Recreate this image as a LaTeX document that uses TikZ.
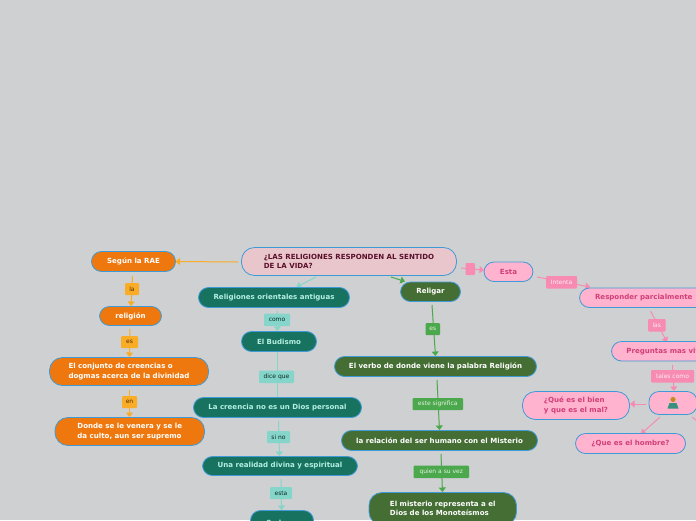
\documentclass[tikz,border=0pt]{standalone}
\usepackage{fontspec}
\setmainfont{DejaVu Sans}
\usetikzlibrary{arrows.meta}
\definecolor{bgc}{HTML}{CFD0D2}
\definecolor{edgeb}{HTML}{3F9BD8}
\definecolor{orangen}{HTML}{EE780E}
\definecolor{orangel}{HTML}{F9AC25}
\definecolor{tealn}{HTML}{17735F}
\definecolor{teall}{HTML}{85D5CA}
\definecolor{tealt}{HTML}{B5EFE3}
\definecolor{greenn}{HTML}{446E33}
\definecolor{greenl}{HTML}{4CA84C}
\definecolor{pinkn}{HTML}{FFB3CF}
\definecolor{pinkl}{HTML}{F78BB2}
\definecolor{pinkt}{HTML}{D13F77}
\definecolor{rootf}{HTML}{E8C6CC}
\definecolor{roott}{HTML}{5A0F2B}
\tikzset{
 x=1pt,y=-1pt,
 box/.style={draw=edgeb,line width=0.8pt,rounded corners=#1,inner sep=0pt,font=\fontsize{7.05}{9.2}\selectfont\bfseries,align=left},
 box/.default=10pt,
 onode/.style={box,fill=orangen,text=white},
 tnode/.style={box,fill=tealn,text=tealt},
 gnode/.style={box,fill=greenn,text=white},
 pnode/.style={box,fill=pinkn,text=pinkt},
 rnode/.style={box=13pt,fill=rootf,text=roott},
 lab/.style={rounded corners=1pt,inner sep=0pt,font=\fontsize{6}{7}\selectfont},
 olab/.style={lab,fill=orangel,text=black!65!orangen},
 tlab/.style={lab,fill=teall,text=black!65!tealn},
 glab/.style={lab,fill=greenl,text=white!85!greenl},
 plab/.style={lab,fill=pinkl,text=white!85!pinkl},
 lnk/.style={line width=1pt,-{Triangle[width=7pt,length=4.5pt]}},
 lno/.style={line width=1pt},
}
\newcommand{\bx}[7]{\node[#1,minimum width={#5-#3},minimum height={#6-#4},anchor=center] (#2) at ({(#3+#5)/2},{(#4+#6)/2}) {#7};}
\begin{document}
\begin{tikzpicture}
\useasboundingbox (0,0) rectangle (696,520);
\clip (0,0) rectangle (696,520);
\fill[bgc] (0,0) rectangle (696,520);
\coordinate (rootL) at (238,262);
\coordinate (rootB) at (316,277);
\coordinate (rootC) at (391,277);
\coordinate (rootR) at (461,268);
\coordinate (raeB) at (132.5,276);
\coordinate (religB) at (130,329);
\coordinate (conjB) at (129.5,390);
\coordinate (orientT) at (296.5,287);
\coordinate (orientB) at (277,311);
\coordinate (budisB) at (277,352);
\coordinate (creenB) at (278.5,421);
\coordinate (realB) at (281,479);
\coordinate (basaT) at (281.5,510);
\coordinate (religarT) at (405,281.5);
\coordinate (religarB) at (432,305);
\coordinate (verboT) at (435.5,356);
\coordinate (verboB) at (437,380);
\coordinate (relacT) at (439.5,430);
\coordinate (relacB) at (441,454);
\coordinate (mistT) at (442.5,492);
\coordinate (estaR) at (537,277);
\coordinate (respT) at (590,287);
\coordinate (respB) at (650.5,311);
\coordinate (pregT) at (667,342);
\coordinate (pregB) at (672.5,365);
\coordinate (emoT) at (674,391);
\coordinate (emoL) at (646,404);
\coordinate (emoBL) at (660,417);
\coordinate (hombT) at (641,434);
\coordinate (emoBR) at (692,417);
\coordinate (offR) at (697,421);
% connectors
\draw[orangel,lnk] (rootL) -- (175.5,261.5);
\draw[orangel,lnk] (raeB) -- (131,306);
\draw[orangel,lnk] (religB) -- (129.5,357);
\draw[orangel,lnk] (conjB) -- (129.5,417);
\draw[teall,lnk] (rootB) -- (orientT);
\draw[teall,lnk] (orientB) -- (277.5,331);
\draw[teall,lno] (budisB) -- (277,397);
\draw[teall,lnk] (creenB) -- (279.5,456);
\draw[teall,lnk] (realB) -- (basaT);
\draw[greenl,lnk] (rootC) -- (religarT);
\draw[greenl,lnk] (religarB) -- (verboT);
\draw[greenl,lnk] (verboB) -- (relacT);
\draw[greenl,lnk] (relacB) -- (mistT);
\draw[pinkl,lnk] (rootR) -- (484,270);
\draw[pinkl,lnk] (estaR) -- (respT);
\draw[pinkl,lnk] (respB) -- (pregT);
\draw[pinkl,lnk] (pregB) -- (emoT);
\draw[pinkl,lnk] (emoL) -- (630,404);
\draw[pinkl,lnk] (emoBL) -- (hombT);
\draw[pinkl,lno] (emoBR) -- (offR);
% nodes
\bx{rnode}{root}{241.5}{247.5}{456.5}{275.5}{¿LAS RELIGIONES RESPONDEN AL SENTIDO\\DE LA VIDA?}
\bx{onode}{rae}{91.5}{251.5}{175.5}{271.5}{Según la RAE}
\bx{onode}{relig}{99.5}{306.5}{161.5}{325.5}{religión}
\bx{onode,box=13pt}{conj}{49.5}{357.5}{208.5}{385.5}{El conjunto de creencias o\\dogmas acerca de la divinidad}
\bx{onode,box=13pt}{donde}{55}{417.5}{204.5}{445.5}{Donde se le venera y se le\\da culto, aun ser supremo}
\bx{tnode}{orient}{198.5}{287.5}{349.5}{307.5}{Religiones orientales antiguas}
\bx{tnode}{budis}{241.5}{331.5}{316.5}{351.5}{El Budismo}
\bx{tnode}{creen}{193.5}{397.5}{361.5}{417.5}{La creencia no es un Dios personal}
\bx{tnode}{real}{202.5}{456.5}{357.5}{475.5}{Una realidad divina y espiritual}
\bx{tnode}{basa}{250.5}{510.5}{313.5}{535}{Se basa}
\bx{gnode}{religar}{400.5}{282}{460.5}{301.5}{Religar}
\bx{gnode}{verbo}{334.5}{356.5}{536.5}{376.5}{El verbo de donde viene la palabra Religión}
\bx{gnode}{relac}{341.5}{430.5}{537.5}{450.5}{la relación del ser humano con el Misterio}
\bx{gnode,box=13pt}{mist}{369}{492.5}{516.5}{525}{El misterio representa a el\\Dios de los Monoteísmos}
\bx{pnode}{esta}{484}{262}{533}{281.5}{Esta}
\bx{pnode}{resp}{579.5}{288}{708}{307.5}{Responder parcialmente}
\bx{pnode}{preg}{611.5}{341.5}{730}{361}{Preguntas mas vitales}
\bx{pnode}{emo}{649}{391.5}{697}{414.5}{}
\bx{pnode,box=13pt}{bien}{522.5}{391.5}{629.5}{419.5}{¿Qué es el bien\\y que es el mal?}
\bx{pnode}{homb}{575.5}{433.5}{685.5}{453.5}{¿Que es el hombre?}
% emoji figure
\fill[orangel!80!black] (673,399.5) circle (2.6pt);
\fill[tealn!70!teall] (669.5,403) -- (676.5,403) -- (678.5,408.5) -- (667.5,408.5) -- cycle;
% labels
\bx{olab}{l1}{125}{283}{139}{295}{la}
\bx{olab}{l2}{121}{336}{138}{348}{es}
\bx{olab}{l3}{122}{396}{137}{408}{en}
\bx{tlab}{l4}{264}{313.5}{290}{326}{como}
\bx{tlab}{l5}{259}{370.5}{294}{383}{dice que}
\bx{tlab}{l6}{267}{431}{290}{443}{si no}
\bx{tlab}{l7}{270}{487}{292}{499}{esta}
\bx{glab}{l8}{425.5}{323}{440}{335}{es}
\bx{glab}{l9}{412.5}{398}{463}{410}{este significa}
\bx{glab}{l10}{413.5}{465.5}{469}{478}{quien a su vez}
\bx{plab}{l11}{465.5}{263}{475}{275}{}
\bx{plab}{l12}{546}{276}{577}{288.5}{Intenta}
\bx{plab}{l13}{648}{319}{665.5}{331.5}{las}
\bx{plab}{l14}{651}{370}{694}{382.5}{tales como}
\end{tikzpicture}
\end{document}
